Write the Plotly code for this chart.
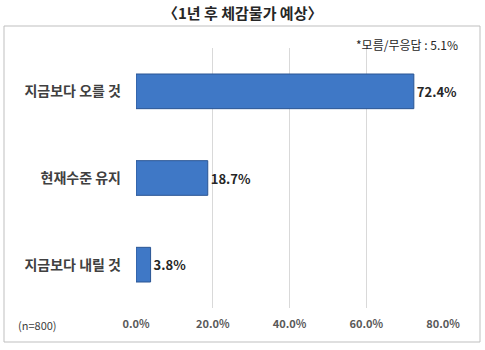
import plotly.graph_objects as go

categories = ["지금보다 오를 것", "현재수준 유지", "지금보다 내릴 것"]
values = [72.4, 18.7, 3.8]
tick_vals = [0, 20, 40, 60, 80]
tick_text = ["0.0%", "20.0%", "40.0%", "60.0%", "80.0%"]
title_text = "〈1년 후 체감물가 예상〉"
note_text = "*모름/무응답 : 5.1%"
n_text = "(n=800)"

W, H = 485, 350
L, R, T, B = 136, 42, 48, 42
pw, ph = W - L - R, H - T - B

def px(x):
    return (x - L) / pw

def py(y):
    return 1 - (y - T) / ph

font = "Noto Sans CJK KR, Malgun Gothic, sans-serif"

fig = go.Figure(go.Bar(
    y=categories,
    x=values,
    orientation="h",
    width=0.4,
    marker=dict(color="#3f78c6", line=dict(color="#2a5593", width=1)),
    text=[f"<b>{v:.1f}%</b>" for v in values],
    textposition="outside",
    textfont=dict(size=13, color="#262626", family=font),
    cliponaxis=False,
))

fig.update_layout(
    width=W, height=H,
    margin=dict(l=L, r=R, t=T, b=B),
    paper_bgcolor="white",
    plot_bgcolor="white",
    showlegend=False,
    font=dict(family=font),
    xaxis=dict(
        range=[0, 80],
        tickvals=tick_vals,
        ticktext=[f"<b>{t}</b>" for t in tick_text],
        tickfont=dict(size=11, color="#595959"),
        ticklabelstandoff=8,
        showgrid=True, gridcolor="#d9d9d9", gridwidth=1,
        zeroline=False, showline=False,
        ticks="", ticklen=0,
    ),
    yaxis=dict(
        categoryorder="array",
        categoryarray=list(reversed(categories)),
        ticktext=[f"<b>{c}</b>" for c in reversed(categories)],
        tickvals=list(reversed(categories)),
        tickfont=dict(size=14, color="#404040"),
        ticklabelstandoff=14,
        showgrid=False, zeroline=False, showline=False,
        ticks="",
    ),
    shapes=[
        dict(type="rect", xref="paper", yref="paper",
             x0=px(4), x1=px(480), y0=py(342), y1=py(26),
             line=dict(color="#bfbfbf", width=1), fillcolor="rgba(0,0,0,0)",
             layer="below"),
    ],
    annotations=[
        dict(text=f"<b>{title_text}</b>", xref="paper", yref="paper",
             x=px(242), y=py(12), xanchor="center", yanchor="middle",
             showarrow=False, font=dict(size=15, color="#262626", family=font)),
        dict(text=note_text, xref="paper", yref="paper",
             x=px(460), y=py(44), xanchor="right", yanchor="middle",
             showarrow=False, font=dict(size=12, color="#262626", family=font)),
        dict(text=n_text, xref="paper", yref="paper",
             x=px(16), y=py(325), xanchor="left", yanchor="middle",
             showarrow=False, font=dict(size=11, color="#404040", family=font)),
    ],
)

fig.write_html("out.html")
